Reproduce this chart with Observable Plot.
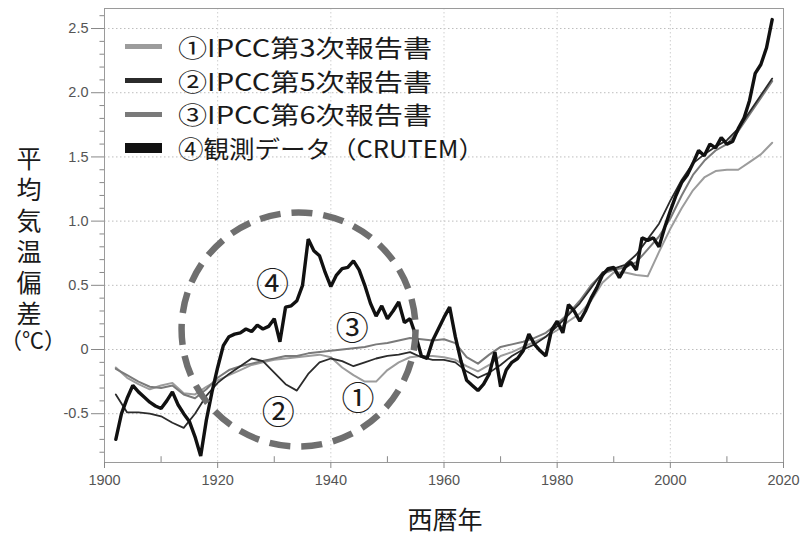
<!DOCTYPE html>
<html><head><meta charset="utf-8">
<script src="https://cdn.jsdelivr.net/npm/d3@7"></script>
<script src="https://cdn.jsdelivr.net/npm/@observablehq/plot@0.6"></script>
<style>
body{margin:0;background:#fff;}
#wrap{position:relative;width:805px;height:536px;overflow:hidden;}
#wrap svg{position:absolute;left:0;top:0;}
.jp{font-family:"Noto Sans CJK JP","Noto Sans",sans-serif;color:#1a1a1a;line-height:1;}
#legend{position:absolute;left:125px;top:30px;}
#legend .row{display:flex;align-items:center;height:33.7px;}
#legend .sw{display:inline-block;width:37px;margin-right:16px;}
#legend .tx{display:inline-block;font-size:24px;white-space:nowrap;transform-origin:0 50%;}
#ytitle{position:absolute;left:16px;top:146px;font-size:25px;writing-mode:vertical-rl;letter-spacing:6px;}
#yunit{position:absolute;left:0px;top:327px;font-size:22px;width:58px;text-align:center;}
#xtitle{position:absolute;left:395px;top:506px;width:100px;text-align:center;font-size:25px;}
</style></head><body>
<div id="wrap"></div>
<script>
// ---- data ----
const obsYears = [1902,1903,1904,1905,1906,1907,1908,1909,1910,1911,1912,1913,1914,1915,1916,1917,1918,1919,1920,1921,1922,1923,1924,1925,1926,1927,1928,1929,1930,1931,1932,1933,1934,1935,1936,1937,1938,1939,1940,1941,1942,1943,1944,1945,1946,1947,1948,1949,1950,1951,1952,1953,1954,1955,1956,1957,1958,1959,1960,1961,1962,1963,1964,1965,1966,1967,1968,1969,1970,1971,1972,1973,1974,1975,1976,1977,1978,1979,1980,1981,1982,1983,1984,1985,1986,1987,1988,1989,1990,1991,1992,1993,1994,1995,1996,1997,1998,1999,2000,2001,2002,2003,2004,2005,2006,2007,2008,2009,2010,2011,2012,2013,2014,2015,2016,2017,2018];
const obsValues = [-0.70,-0.50,-0.38,-0.28,-0.33,-0.37,-0.41,-0.44,-0.46,-0.40,-0.33,-0.43,-0.50,-0.56,-0.68,-0.83,-0.55,-0.33,-0.14,0.03,0.10,0.12,0.13,0.16,0.14,0.19,0.16,0.18,0.24,0.06,0.33,0.34,0.38,0.50,0.86,0.77,0.73,0.60,0.49,0.58,0.63,0.64,0.69,0.62,0.50,0.36,0.26,0.34,0.24,0.30,0.37,0.21,0.24,0.11,-0.05,-0.07,0.07,0.16,0.25,0.33,0.10,-0.09,-0.24,-0.28,-0.32,-0.27,-0.19,-0.02,-0.29,-0.16,-0.10,-0.07,-0.01,0.12,0.04,-0.01,-0.05,0.15,0.22,0.13,0.35,0.30,0.22,0.30,0.40,0.48,0.58,0.63,0.64,0.56,0.64,0.68,0.62,0.87,0.85,0.87,0.80,0.95,1.08,1.20,1.30,1.36,1.45,1.55,1.51,1.60,1.57,1.65,1.60,1.62,1.72,1.80,1.94,2.15,2.22,2.35,2.57];

const modelYears = [1902,1904,1906,1908,1910,1912,1914,1916,1918,1920,1922,1924,1926,1928,1930,1932,1934,1936,1938,1940,1942,1944,1946,1948,1950,1952,1954,1956,1958,1960,1962,1964,1966,1968,1970,1972,1974,1976,1978,1980,1982,1984,1986,1988,1990,1992,1994,1996,1998,2000,2002,2004,2006,2008,2010,2012,2014,2016,2018];
const ar3Values = [-0.14,-0.22,-0.27,-0.31,-0.28,-0.26,-0.34,-0.35,-0.29,-0.24,-0.20,-0.16,-0.12,-0.10,-0.08,-0.07,-0.06,-0.05,-0.04,-0.06,-0.14,-0.20,-0.25,-0.25,-0.16,-0.10,-0.06,-0.05,-0.05,-0.06,-0.08,-0.13,-0.17,-0.12,-0.05,-0.02,0.02,0.06,0.10,0.15,0.22,0.28,0.38,0.52,0.60,0.60,0.58,0.57,0.76,0.94,1.10,1.24,1.34,1.39,1.40,1.40,1.46,1.52,1.61];
const ar5Values = [-0.35,-0.49,-0.49,-0.50,-0.52,-0.57,-0.61,-0.50,-0.36,-0.26,-0.19,-0.13,-0.07,-0.09,-0.18,-0.27,-0.32,-0.19,-0.10,-0.07,-0.09,-0.13,-0.10,-0.07,-0.05,-0.04,-0.02,-0.06,-0.08,-0.08,-0.10,-0.17,-0.22,-0.18,-0.12,-0.05,0.00,0.04,0.10,0.18,0.27,0.36,0.48,0.60,0.63,0.66,0.74,0.86,0.98,1.16,1.32,1.45,1.52,1.58,1.63,1.72,1.85,1.98,2.11];
const ar6Values = [-0.15,-0.20,-0.25,-0.29,-0.30,-0.28,-0.35,-0.38,-0.31,-0.22,-0.16,-0.13,-0.11,-0.09,-0.07,-0.05,-0.05,-0.03,-0.02,-0.01,0.00,0.01,0.02,0.04,0.05,0.07,0.09,0.08,0.07,0.08,0.05,-0.06,-0.11,-0.04,0.02,0.04,0.06,0.09,0.13,0.20,0.28,0.38,0.50,0.59,0.62,0.64,0.68,0.78,0.88,1.02,1.20,1.36,1.47,1.55,1.60,1.70,1.83,1.96,2.09];

const seriesNames = ["①IPCC第3次報告書","②IPCC第5次報告書","③IPCC第6次報告書","④観測データ（CRUTEM）"];
const seriesColors = ["#9c9c9c","#2b2b2b","#7a7a7a","#111111"];
const seriesWidths = [2, 1.8, 2, 3.4];
const legendKeyHeights = [5, 5, 5, 10];
const legendTextWidths = [254, 254, 254, 306];

const yTicks = [-0.5,0,0.5,1.0,1.5,2.0,2.5];
const yMinorTicks = [-0.8,-0.7,-0.6,-0.4,-0.3,-0.2,-0.1,0.1,0.2,0.3,0.4,0.6,0.7,0.8,0.9,1.1,1.2,1.3,1.4,1.6,1.7,1.8,1.9,2.1,2.2,2.3,2.4,2.6];
const xTicks = [1900,1920,1940,1960,1980,2000,2020];
const xMinorTicks = [1910,1930,1950,1970,1990,2010];
const xGrid = [1920,1940,1960,1980,2000];

const yTitle = "平均気温偏差";
const yUnit = "（℃）";
const xTitle = "西暦年";

// annotation: dashed circle and circled numbers (data coordinates)
const circleCenter = [{year:1934.3, value:0.156}];
const labelNames = ["①","②","③","④"];
const labelYears = [1944.8, 1930.7, 1943.8, 1929.7];
const labelValues = [-0.39, -0.50, 0.156, 0.50];

// ---- build tables ----
const obs = obsYears.map((y,i)=>({year:y, value:obsValues[i]}));
const mk = vals => modelYears.map((y,i)=>({year:y, value:vals[i]}));
const ar3 = mk(ar3Values), ar5 = mk(ar5Values), ar6 = mk(ar6Values);
const labels = labelNames.map((t,i)=>({t, year:labelYears[i], value:labelValues[i]}));

const yMin = -0.88, yMax = 2.656;
const chart = Plot.plot({
  width: 805, height: 536,
  marginLeft: 104, marginRight: 22, marginTop: 8, marginBottom: 74,
  style: {fontFamily: "'Liberation Sans', Arial, sans-serif", fontSize: "14.5px", background: "#fff"},
  x: {domain: [1900, 2020]},
  y: {domain: [yMin, yMax]},
  marks: [
    Plot.gridY(yTicks, {stroke: "#bdbdbd", strokeOpacity: 1, strokeDasharray: "1.5,2.5"}),
    Plot.gridX(xGrid, {stroke: "#cfcfcf", strokeOpacity: 1, strokeDasharray: "1.5,2.5"}),
    Plot.frame({stroke: "#9a9a9a"}),
    Plot.axisY(yTicks, {tickSize: 13, tickPadding: 3, stroke: "#888", fill: "#555", tickFormat: d => d === 0 ? "0" : d.toFixed(1), label: null}),
    Plot.ruleY(yMinorTicks, {y: d => d, x1: 1900, x2: 1899.2, stroke: "#888", clip: false}),
    Plot.axisX(xTicks, {tickSize: 6, tickPadding: 6, stroke: "#888", fill: "#555", tickFormat: d => String(d), label: null}),
    Plot.ruleX(xMinorTicks, {x: d => d, y1: yMin, y2: yMin + 0.045, stroke: "#888"}),
    Plot.line(ar3, {x: "year", y: "value", stroke: seriesColors[0], strokeWidth: seriesWidths[0]}),
    Plot.line(ar6, {x: "year", y: "value", stroke: seriesColors[2], strokeWidth: seriesWidths[2]}),
    Plot.line(ar5, {x: "year", y: "value", stroke: seriesColors[1], strokeWidth: seriesWidths[1]}),
    Plot.line(obs, {x: "year", y: "value", stroke: seriesColors[3], strokeWidth: seriesWidths[3], strokeLinejoin: "miter"}),
    Plot.dot(circleCenter, {x: "year", y: "value", r: 117, stroke: "#6f6f6f", strokeWidth: 6.5, strokeDasharray: "21,11", fill: "none"}),
    Plot.text(labels, {x: "year", y: "value", text: "t", fontSize: 33, fill: "#1a1a1a", fontFamily: "'Noto Sans CJK JP', sans-serif"})
  ]
});

const wrap = document.getElementById("wrap");
wrap.appendChild(chart);

// legend overlay
const lg = document.createElement("div");
lg.id = "legend"; lg.className = "jp";
const txs = [];
seriesNames.forEach((name,i)=>{
  const row = document.createElement("div"); row.className = "row";
  const sw = document.createElement("span"); sw.className = "sw";
  sw.style.height = legendKeyHeights[i] + "px"; sw.style.background = seriesColors[i];
  const tx = document.createElement("span"); tx.className = "tx"; tx.textContent = name;
  row.appendChild(sw); row.appendChild(tx); lg.appendChild(row);
  txs.push(tx);
});
wrap.appendChild(lg);
// widen legend texts (flattened type) to the reference widths
txs.forEach((tx,i)=>{
  const w = tx.getBoundingClientRect().width;
  tx.style.transform = "scaleX(" + (legendTextWidths[i] / w).toFixed(3) + ")";
});

const yt = document.createElement("div"); yt.id = "ytitle"; yt.className = "jp"; yt.textContent = yTitle;
wrap.appendChild(yt);
const yu = document.createElement("div"); yu.id = "yunit"; yu.className = "jp"; yu.textContent = yUnit;
wrap.appendChild(yu);
const xt = document.createElement("div"); xt.id = "xtitle"; xt.className = "jp"; xt.textContent = xTitle;
wrap.appendChild(xt);
</script>
</body></html>
